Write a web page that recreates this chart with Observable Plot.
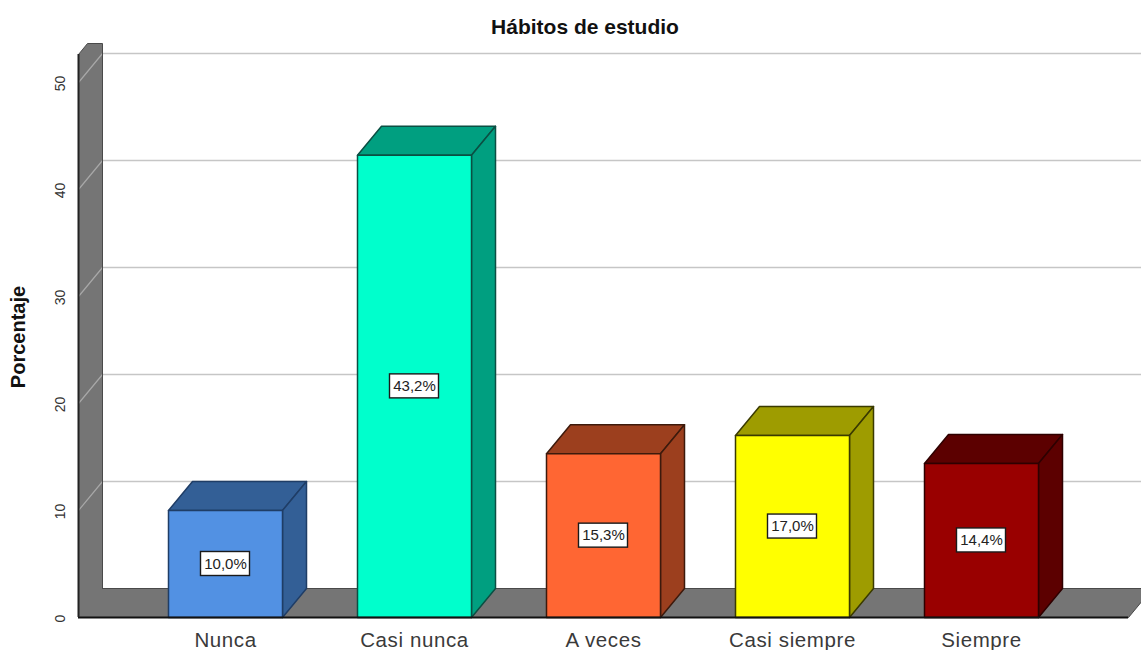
<!DOCTYPE html>
<html>
<head>
<meta charset="utf-8">
<script src="https://cdn.jsdelivr.net/npm/d3@7"></script>
<script src="https://cdn.jsdelivr.net/npm/@observablehq/plot@0.6"></script>
<style>
html,body{margin:0;padding:0;background:#fff}svg{display:block}
g[aria-label="x-axis tick label"]{letter-spacing:.6px}
g[aria-label="chart title"]{letter-spacing:1.1px}
g[aria-label="y title"]{letter-spacing:.85px}
</style>
</head>
<body>
<div id="chart"></div>
<script>
const categories = ["Nunca", "Casi nunca", "A veces", "Casi siempre", "Siempre"];
const values = [10.0, 43.2, 15.3, 17.0, 14.4];
const valueLabels = ["10,0%", "43,2%", "15,3%", "17,0%", "14,4%"];
const frontColors = ["#5291e3", "#00ffcc", "#ff6633", "#ffff00", "#990000"];
const sideColors = ["#335f96", "#009f80", "#9c3f1e", "#9e9c00", "#5c0000"];
const edgeColors = ["#1f3d66", "#0b4f43", "#3d1a0c", "#3a3a00", "#2e0000"];
const yTicks = [0, 10, 20, 30, 40, 50];

// The scales, expressed in data units per pixel of the reference picture
const pxPerCategory = 189, pxPerPercent = 10.7;
const px = p => p / pxPerCategory;      // horizontal pixels to category units
const py = p => p / pxPerPercent;       // vertical pixels to percent units
const depthX = px(24), depthY = py(29); // 3D depth
const halfBar = px(57);
const xMin = px(78 - 225), xMax = px(1141 - 225), yMax = py(617);
const wallTop = py(574), wallChamfer = py(563), wallChamferX = xMin + px(9);
const floorEnd = px(1128 - 225);

const toPts = pts => pts.map(([x, y]) => ({x, y}));
const poly = pts => toPts([...pts, pts[0]]);
const face = (pts, fill, stroke, strokeWidth = 1.5) =>
  Plot.line(poly(pts), {x: "x", y: "y", fill, stroke, strokeWidth, strokeLinejoin: "round"});
const edge = (pts, stroke, strokeWidth) =>
  Plot.line(toPts(pts), {x: "x", y: "y", stroke, strokeWidth});

// Wall and floor form one continuous grey shape
const structure = face(
  [[xMin, 0], [xMin, wallChamfer], [wallChamferX, wallTop], [xMin + depthX, wallTop],
   [xMin + depthX, depthY], [floorEnd + depthX, depthY], [floorEnd, 0]],
  "#757575", "none");
const structureEdges = [
  edge([[xMin + depthX, depthY], [xMin + depthX, wallTop], [wallChamferX, wallTop], [xMin, wallChamfer]], "#4a4a4a", 1),
  edge([[xMin + depthX, depthY], [floorEnd + depthX, depthY], [floorEnd, 0]], "#4a4a4a", 1)
];

const gridBack = Plot.ruleY(yTicks.slice(1), {
  y: d => d + depthY, x1: xMin + depthX, x2: xMax, stroke: "#c6c6c6", strokeWidth: 1.4
});
const gridWall = yTicks.slice(1).map(v => edge([[xMin, v], [xMin + depthX, v + depthY]], "#a8a8a8", 1.2));

const bars = categories.flatMap((c, i) => {
  const v = values[i], l = i - halfBar, r = i + halfBar;
  return [
    face([[l, v], [l + depthX, v + depthY], [r + depthX, v + depthY], [r, v]], sideColors[i], edgeColors[i]),
    face([[r, 0], [r + depthX, depthY], [r + depthX, v + depthY], [r, v]], sideColors[i], edgeColors[i]),
    face([[l, 0], [l, v], [r, v], [r, 0]], frontColors[i], edgeColors[i])
  ];
});

const boxes = Plot.rect(categories.map((c, i) => i), {
  x1: i => i - px(24.5), x2: i => i + px(24.5),
  y1: i => values[i] / 2 - py(12), y2: i => values[i] / 2 + py(12),
  fill: "#ffffff", stroke: "#1a1a1a", strokeWidth: 1.4
});
const boxText = Plot.text(categories.map((c, i) => i), {
  x: i => i, y: i => values[i] / 2, text: i => valueLabels[i],
  fontSize: 15, fill: "#222"
});

const plot = Plot.plot({
  width: 1141, height: 650,
  marginLeft: 78, marginRight: 0, marginTop: 0, marginBottom: 33,
  style: {fontFamily: "'Liberation Sans', Arial, sans-serif", background: "#fff", color: "#222"},
  x: {type: "linear", domain: [xMin, xMax]},
  y: {domain: [0, yMax]},
  marks: [
    gridBack,
    structure,
    ...gridWall,
    ...structureEdges,
    ...bars,
    boxes,
    boxText,
    Plot.ruleY([0], {x1: xMin, x2: floorEnd, stroke: "#111", strokeWidth: 2}),
    Plot.ruleX([xMin], {y1: 0, y2: wallChamfer, stroke: "#222", strokeWidth: 2}),
    Plot.axisX({
      ticks: categories.map((c, i) => i), tickFormat: i => categories[i],
      tickSize: 0, tickPadding: 15, fontSize: 20.5, label: null, fill: "#3a3a3a"
    }),
    Plot.axisY({
      ticks: yTicks, tickSize: 0, tickPadding: 13, tickRotate: -90,
      fontSize: 14, label: null, fill: "#333", dy: 1, dx: -1
    }),
    Plot.text(["Porcentaje"], {
      frameAnchor: "left", textAnchor: "middle", dx: -60, rotate: -90, fontSize: 20, fontWeight: "bold", fill: "#111",
      dy: 28, ariaLabel: "y title"
    }),
    Plot.text(["Hábitos de estudio"], {
      frameAnchor: "top", dx: -25, dy: 19, fontSize: 21, fontWeight: "bold", fill: "#111",
      ariaLabel: "chart title"
    })
  ]
});
document.getElementById("chart").append(plot);
</script>
</body>
</html>
